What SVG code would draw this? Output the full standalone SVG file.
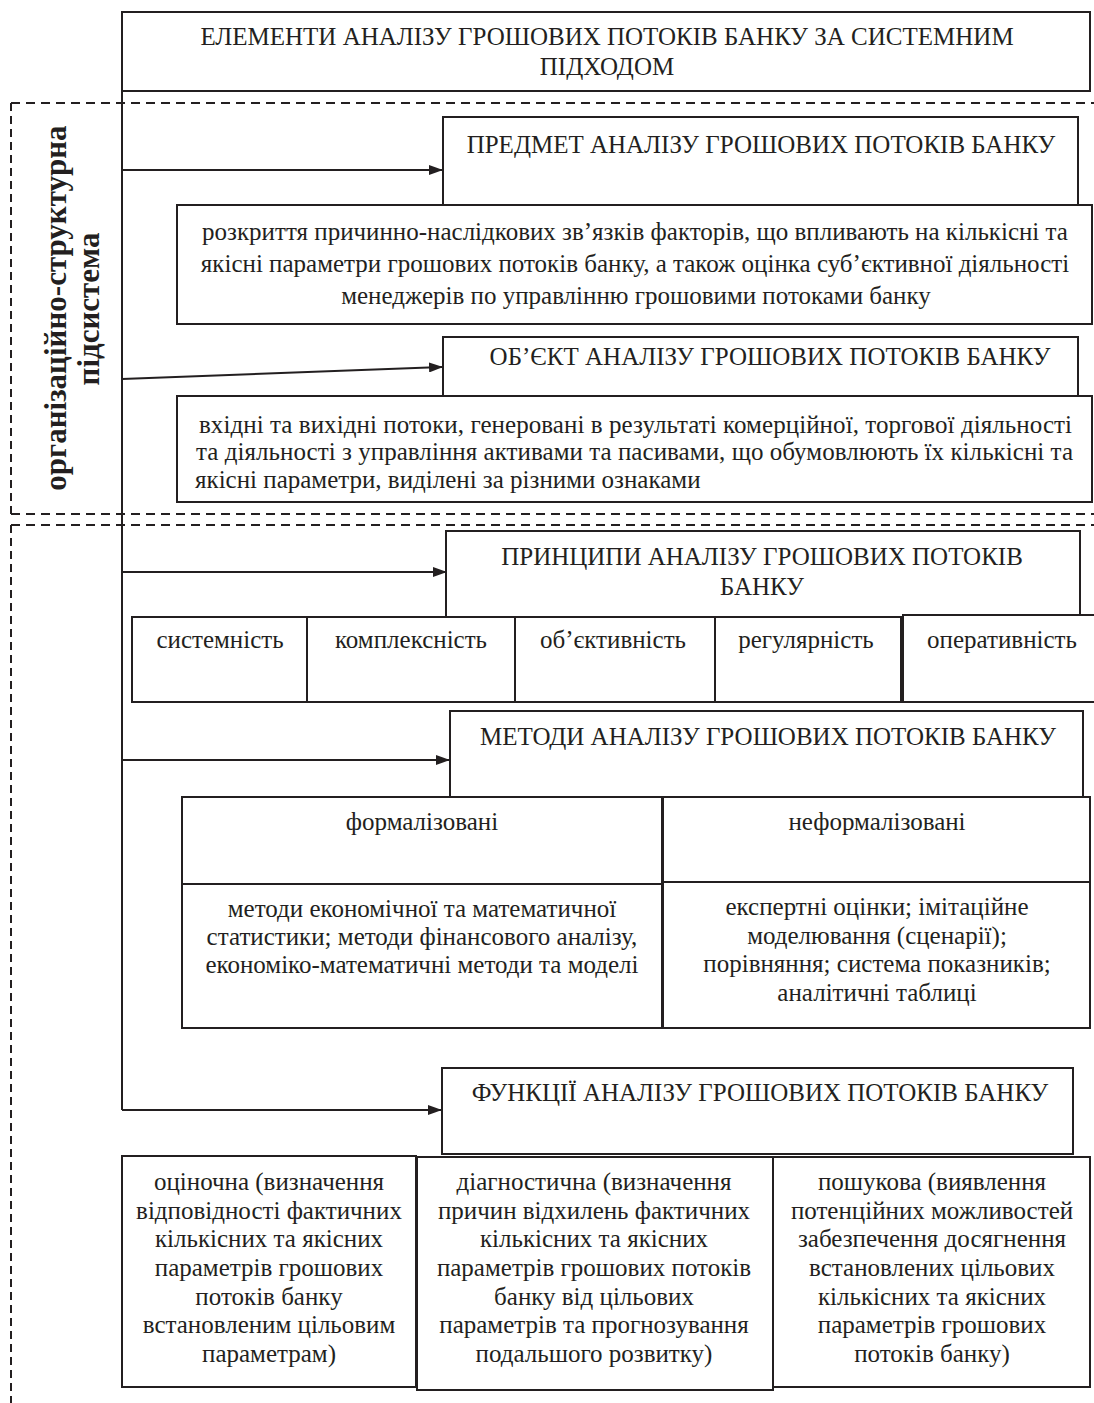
<svg xmlns="http://www.w3.org/2000/svg" width="1094" height="1403" viewBox="0 0 1094 1403">
<defs>
<style>
.bx{fill:#fff;stroke:#231f20;stroke-width:2}
.ln{fill:none;stroke:#231f20;stroke-width:2}
.dh{fill:none;stroke:#231f20;stroke-width:2;stroke-dasharray:9 6}
.dv{fill:none;stroke:#231f20;stroke-width:2;stroke-dasharray:8 5}
text{font-family:"Liberation Serif","Times New Roman",serif;font-size:25px;fill:#231f20}
.c{text-anchor:middle}
.lbl{font-weight:bold;font-size:31px;text-anchor:middle}
</style>
<marker id="ah" markerWidth="14" markerHeight="10" refX="13" refY="5" orient="auto" markerUnits="userSpaceOnUse">
<path d="M0,0 L14,5 L0,10 Z" fill="#231f20"/>
</marker>
</defs>
<rect width="1094" height="1403" fill="#fff"/>

<g id="subsystems">
<path class="dh" d="M11,103 H1094 M11,514 H1094 M11,525 H1094"/>
<path class="dv" d="M11,103 V514 M11,525 V1403"/>
<text class="lbl" transform="translate(66,308) rotate(-90)">організаційно-структурна</text>
<text class="lbl" transform="translate(99,309) rotate(-90)">підсистема</text>
</g>

<g id="title">
<rect class="bx" x="122" y="12" width="968" height="79"/>
<text class="c" x="607" y="45">ЕЛЕМЕНТИ АНАЛІЗУ ГРОШОВИХ ПОТОКІВ БАНКУ ЗА СИСТЕМНИМ</text>
<text class="c" x="607" y="75">ПІДХОДОМ</text>
</g>

<g id="connectors">
<path class="ln" d="M122,91 V1110"/>
<path class="ln" d="M122,170 H442" marker-end="url(#ah)"/>
<path class="ln" d="M122,379 L442,367" marker-end="url(#ah)"/>
<path class="ln" d="M122,572 H446" marker-end="url(#ah)"/>
<path class="ln" d="M122,760 H449" marker-end="url(#ah)"/>
<path class="ln" d="M122,1110 H441" marker-end="url(#ah)"/>
</g>

<g id="subject">
<rect class="bx" x="443" y="117" width="635" height="88"/>
<text class="c" x="761" y="153">ПРЕДМЕТ АНАЛІЗУ ГРОШОВИХ ПОТОКІВ БАНКУ</text>
</g>
<g id="subject-desc">
<rect class="bx" x="177" y="205" width="915" height="119"/>
<text class="c" x="635" y="240">розкриття причинно-наслідкових зв’язків факторів, що впливають на кількісні та</text>
<text class="c" x="635" y="272">якісні параметри грошових потоків банку, а також оцінка суб’єктивної діяльності</text>
<text class="c" x="636" y="304">менеджерів по управлінню грошовими потоками банку</text>
</g>

<g id="object">
<rect class="bx" x="443" y="337" width="635" height="59"/>
<text class="c" x="770" y="365">ОБ’ЄКТ АНАЛІЗУ ГРОШОВИХ ПОТОКІВ БАНКУ</text>
</g>
<g id="object-desc">
<rect class="bx" x="177" y="396" width="915" height="106"/>
<text x="199" y="433" textLength="873" lengthAdjust="spacing">вхідні та вихідні потоки, генеровані в результаті комерційної, торгової діяльності</text>
<text x="196" y="460" textLength="877" lengthAdjust="spacing">та діяльності з управління активами та пасивами, що обумовлюють їх кількісні та</text>
<text x="195" y="488">якісні параметри, виділені за різними ознаками</text>
</g>

<g id="principles">
<rect class="bx" x="446" y="531" width="634" height="86"/>
<text class="c" x="762" y="565">ПРИНЦИПИ АНАЛІЗУ ГРОШОВИХ ПОТОКІВ</text>
<text class="c" x="762" y="595">БАНКУ</text>
</g>
<g id="p-systemnist"><rect class="bx" x="132" y="617" width="175" height="85"/><text class="c" x="220" y="648">системність</text></g>
<g id="p-kompleksnist"><rect class="bx" x="307" y="617" width="208" height="85"/><text class="c" x="411" y="648">комплексність</text></g>
<g id="p-obiektyvnist"><rect class="bx" x="515" y="617" width="200" height="85"/><text class="c" x="613" y="648">об’єктивність</text></g>
<g id="p-rehuliarnist"><rect class="bx" x="715" y="617" width="186" height="85"/><text class="c" x="806" y="648">регулярність</text></g>
<g id="p-operatyvnist"><rect class="bx" x="903" y="615" width="200" height="87"/><text class="c" x="1002" y="648">оперативність</text></g>

<g id="methods">
<rect class="bx" x="450" y="711" width="633" height="86"/>
<text class="c" x="768" y="745">МЕТОДИ АНАЛІЗУ ГРОШОВИХ ПОТОКІВ БАНКУ</text>
</g>
<g id="m-formal">
<rect class="bx" x="182" y="797" width="480" height="231"/>
<path class="ln" d="M182,884 H662"/>
<text class="c" x="422" y="830">формалізовані</text>
<text class="c" x="422" y="917">методи економічної та математичної</text>
<text class="c" x="422" y="945">статистики; методи фінансового аналізу,</text>
<text class="c" x="422" y="973">економіко-математичні методи та моделі</text>
</g>
<g id="m-informal">
<rect class="bx" x="663" y="797" width="427" height="231"/>
<path class="ln" d="M663,882 H1090"/>
<text class="c" x="877" y="830">неформалізовані</text>
<text class="c" x="877" y="915">експертні оцінки; імітаційне</text>
<text class="c" x="877" y="944">моделювання (сценарії);</text>
<text class="c" x="877" y="972">порівняння; система показників;</text>
<text class="c" x="877" y="1001">аналітичні таблиці</text>
</g>

<g id="functions">
<rect class="bx" x="442" y="1068" width="631" height="86"/>
<text class="c" x="760" y="1101">ФУНКЦІЇ АНАЛІЗУ ГРОШОВИХ ПОТОКІВ БАНКУ</text>
</g>
<g id="f-evaluative">
<rect class="bx" x="122" y="1156" width="294" height="231"/>
<text class="c" x="269" y="1190">оціночна (визначення</text>
<text class="c" x="269" y="1219">відповідності фактичних</text>
<text class="c" x="269" y="1247">кількісних та якісних</text>
<text class="c" x="269" y="1276">параметрів грошових</text>
<text class="c" x="269" y="1305">потоків банку</text>
<text class="c" x="269" y="1333">встановленим цільовим</text>
<text class="c" x="269" y="1362">параметрам)</text>
</g>
<g id="f-diagnostic">
<rect class="bx" x="417" y="1157" width="356" height="233"/>
<text class="c" x="594" y="1190">діагностична (визначення</text>
<text class="c" x="594" y="1219">причин відхилень фактичних</text>
<text class="c" x="594" y="1247">кількісних та якісних</text>
<text class="c" x="594" y="1276">параметрів грошових потоків</text>
<text class="c" x="594" y="1305">банку від цільових</text>
<text class="c" x="594" y="1333">параметрів та прогнозування</text>
<text class="c" x="594" y="1362">подальшого розвитку)</text>
</g>
<g id="f-search">
<rect class="bx" x="773" y="1157" width="317" height="230"/>
<text class="c" x="932" y="1190">пошукова (виявлення</text>
<text class="c" x="932" y="1219">потенційних можливостей</text>
<text class="c" x="932" y="1247">забезпечення досягнення</text>
<text class="c" x="932" y="1276">встановлених  цільових</text>
<text class="c" x="932" y="1305">кількісних та якісних</text>
<text class="c" x="932" y="1333">параметрів грошових</text>
<text class="c" x="932" y="1362">потоків банку)</text>
</g>
</svg>
